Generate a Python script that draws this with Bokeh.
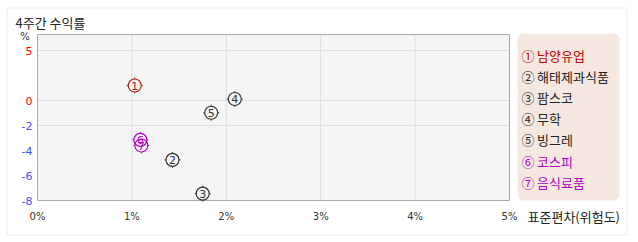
from bokeh.plotting import figure
from bokeh.models import Range1d, Label, BoxAnnotation, ColumnDataSource
from bokeh.core.properties import value
from bokeh.embed import file_html
from bokeh.resources import INLINE

# ---- data ----
names = ["남양유업", "해태제과식품", "팜스코", "무학", "빙그레", "코스피", "음식료품"]
circled = ["①", "②", "③", "④", "⑤", "⑥", "⑦"]
marker_digits = ["1", "2", "3", "4", "5", "6", "7"]
std_dev = [1.03, 1.43, 1.75, 2.09, 1.84, 1.09, 1.10]
returns = [1.5, -4.75, -7.45, 0.15, -0.98, -3.15, -3.6]
point_colors = ["#b02020", "#333333", "#333333", "#333333", "#333333", "#b000c0", "#b000c0"]
legend_colors = ["#c00000", "#222222", "#222222", "#222222", "#222222", "#b000c0", "#b000c0"]
x_ticks = [0, 1, 2, 3, 4, 5]
x_tick_labels = ["0%", "1%", "2%", "3%", "4%", "5%"]
y_ticks = [5, 0, -2, -4, -6, -8]
y_tick_labels = ["5", "0", "-2", "-4", "-6", "-8"]
y_grid_values = [5, 0, -2]
title_text = "4주간 수익률"
x_title = "표준편차(위험도)"
y_unit = "%"

KR = "Noto Sans CJK KR"


def disp(v):
    # the positive half of the axis is drawn at 0.8x the scale of the negative half
    return v * 0.8 if v >= 0 else v


W, H = 638, 242
# plot area in canvas pixels
AL, AR, AT, AB = 37, 509, 34, 201
XPX = (AR - AL) / (x_ticks[-1] - x_ticks[0])      # px per x unit
YPX = 12.5                                        # px per (display) y unit
Y0 = 100                                          # canvas y of value 0

x_lo = x_ticks[0] - AL / XPX
x_hi = x_ticks[-1] + (W - AR) / XPX
y_hi = Y0 / YPX
y_lo = -(H - Y0) / YPX
area_top = (Y0 - AT) / YPX
area_bottom = y_ticks[-1]

p = figure(width=W, height=H, x_range=Range1d(x_lo, x_hi), y_range=Range1d(y_lo, y_hi),
           output_backend="svg", toolbar_location=None,
           min_border=0, x_axis_location=None, y_axis_location=None,
           background_fill_color="white", border_fill_color="white",
           outline_line_color=None)
p.grid.visible = False


def rx(cx):
    return cx


def ry(cy):
    return H - cy


# outer frame
p.add_layout(BoxAnnotation(left=rx(6.5), right=rx(626.5), bottom=ry(234.5), top=ry(7.5),
                           left_units="screen", right_units="screen",
                           bottom_units="screen", top_units="screen",
                           fill_alpha=0, line_color="#bbbbbb", line_width=1, level="underlay"))

# plot area
p.quad(left=x_ticks[0], right=x_ticks[-1], bottom=area_bottom, top=area_top,
       fill_color="#f5f5f5", line_color=None)
# grid
gx = x_ticks[1:-1]
p.segment(x0=gx, x1=gx, y0=[area_bottom] * len(gx), y1=[area_top] * len(gx),
          line_color="#dddddd", line_width=1)
gy = [disp(v) for v in y_grid_values]
p.segment(x0=[x_ticks[0]] * len(gy), x1=[x_ticks[-1]] * len(gy), y0=gy, y1=gy,
          line_color="#dddddd", line_width=1)
# area border
p.quad(left=x_ticks[0], right=x_ticks[-1], bottom=area_bottom, top=area_top,
       fill_color=None, line_color="#aaaaaa", line_width=1)

# x tick labels
p.text(x=x_ticks, y=[-(216 - Y0) / YPX] * len(x_ticks), text=x_tick_labels,
       text_align="center", text_baseline="middle", text_color="#333333",
       text_font=value("DejaVu Sans"), text_font_size="10px")
# y tick labels
ysrc = ColumnDataSource(dict(
    x=[x_ticks[0] - 5 / XPX] * len(y_ticks),
    y=[disp(v) for v in y_ticks],
    text=y_tick_labels,
    color=["#ff0000" if v >= 0 else "#4a4aff" for v in y_ticks],
))
p.text("x", "y", source=ysrc, text="text", text_align="right", text_baseline="middle",
       text_color="color", text_font=value("DejaVu Sans"), text_font_size="11px")

# points
src = ColumnDataSource(dict(
    x=std_dev,
    y=[disp(v) for v in returns],
    color=point_colors,
    num=marker_digits,
))
p.scatter("x", "y", source=src, marker="cross", size=16, line_color="color", line_width=1)
p.scatter("x", "y", source=src, marker="circle", size=13, fill_color="#f5f5f5", line_color=None)
p.scatter("x", "y", source=src, marker="circle", size=13, fill_color=None, line_color="color", line_width=1.2)
p.text("x", "y", source=src, text="num", text_align="center", text_baseline="middle",
       text_color="color", text_font=value("DejaVu Sans"), text_font_size="11px")

# legend box
p.add_layout(BoxAnnotation(left=rx(517), right=rx(619), bottom=ry(200), top=ry(33),
                           left_units="screen", right_units="screen",
                           bottom_units="screen", top_units="screen",
                           fill_color="#f5e8e1", fill_alpha=1, line_color=None,
                           border_radius=6, level="underlay"))

for i, (c, n, col) in enumerate(zip(circled, names, legend_colors)):
    p.add_layout(Label(x=rx(521), y=ry(55 + i * 21.1), x_units="screen", y_units="screen",
                       text=c + "\u2009" + n, text_align="left", text_baseline="middle",
                       text_color=col, text_font=KR, text_font_size="13px"))

# title
p.add_layout(Label(x=rx(15), y=ry(22), x_units="screen", y_units="screen", text=title_text,
                   text_align="left", text_baseline="middle", text_color="#222222",
                   text_font=KR, text_font_size="13px"))
# y unit
p.add_layout(Label(x=rx(24.5), y=ry(36), x_units="screen", y_units="screen", text=y_unit,
                   text_align="center", text_baseline="middle", text_color="#333333",
                   text_font="DejaVu Sans", text_font_size="10px"))
# x title
p.add_layout(Label(x=rx(527), y=ry(216), x_units="screen", y_units="screen", text=x_title,
                   text_align="left", text_baseline="middle", text_color="#222222",
                   text_font=KR, text_font_size="13px"))

open("out.html", "w").write(file_html(p, INLINE))
